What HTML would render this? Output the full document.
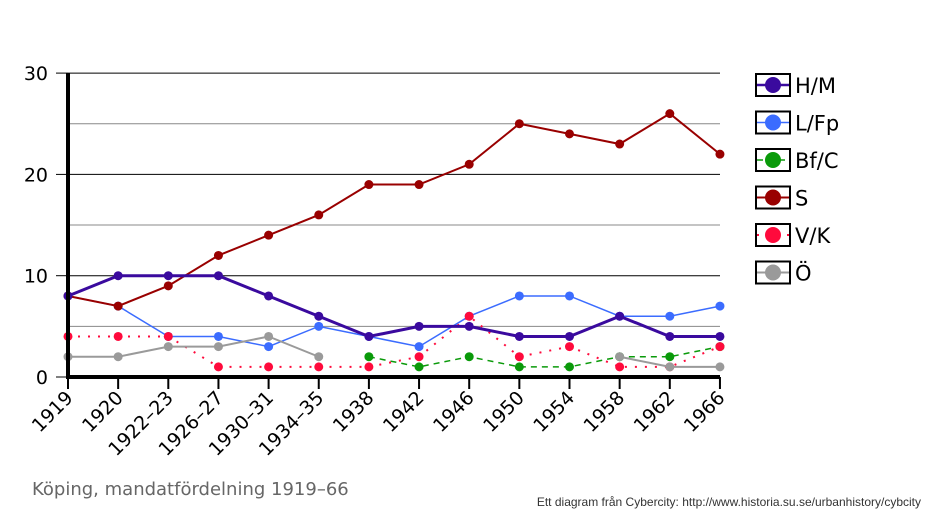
<!DOCTYPE html>
<html><head><meta charset="utf-8"><style>
body{margin:0;background:#fff;width:938px;height:521px;overflow:hidden}
svg text{font-family:"DejaVu Sans","Liberation Sans",sans-serif}
</style></head><body>
<svg id="s" width="938" height="521" xmlns="http://www.w3.org/2000/svg"></svg>
<script>
const s=document.getElementById('s');
const X=i=>68+i*50.15, Y=v=>377-v*10.13;
let h='';
for(let v=5;v<=30;v+=5){const y=Y(v);h+=`<line x1="68" x2="720" y1="${y}" y2="${y}" stroke="${v%10?'#888':'#000'}" stroke-width="1"/>`;}
for(let v=0;v<=30;v+=10){const y=Y(v);h+=`<line x1="56" x2="68" y1="${y}" y2="${y}" stroke="#000"/><text x="48" y="${y+7}" font-size="19" text-anchor="end">${v}</text>`;}
const cats=["1919","1920","1922–23","1926–27","1930–31","1934–35","1938","1942","1946","1950","1954","1958","1962","1966"];
cats.forEach((c,i)=>{const x=X(i);h+=`<line x1="${x}" x2="${x}" y1="377" y2="389" stroke="#000" stroke-width="2"/><text font-size="19" text-anchor="end" transform="translate(${x+6},${399}) rotate(-45)">${c}</text>`;});
const ser=[
["#3a0a9e",3,"",[8,10,10,10,8,6,4,5,5,4,4,6,4,4]],
["#3b6cff",1.5,"",[8,7,4,4,3,5,4,3,6,8,8,6,6,7]],
["#0a9a0a",1.5,"6,5",[null,null,null,null,null,null,2,1,2,1,1,2,2,3]],
["#990000",2,"",[8,7,9,12,14,16,19,19,21,25,24,23,26,22]],
["#ff0a3c",2,"2,8",[4,4,4,1,1,1,1,2,6,2,3,1,1,3]],
["#9a9a9a",2,"",[2,2,3,3,4,2,null,null,null,null,null,2,1,1]]];
const order=[1,2,4,5,3,0];
order.forEach(k=>{const [c,w,d,v]=ser[k];let seg=[];const flush=()=>{if(seg.length>1)h+=`<polyline fill="none" stroke="${c}" stroke-width="${w}" stroke-dasharray="${d}" points="${seg.join(' ')}"/>`;seg=[];};
v.forEach((val,i)=>{if(val==null){flush();return;}seg.push(X(i)+','+Y(val));});flush();
v.forEach((val,i)=>{if(val!=null)h+=`<circle cx="${X(i)}" cy="${Y(val)}" r="4.5" fill="${c}"/>`;});});
h+=`<line x1="68" x2="68" y1="73" y2="379" stroke="#000" stroke-width="4"/><line x1="66" x2="720" y1="377" y2="377" stroke="#000" stroke-width="4"/>`;
const names=["H/M","L/Fp","Bf/C","S","V/K","Ö"];
names.forEach((n,k)=>{const cy=85+k*37.5;const [c,w,d]=ser[k];
h+=`<rect x="756" y="${cy-11}" width="34" height="22" fill="#fff" stroke="#000" stroke-width="2"/><line x1="757" x2="789" y1="${cy}" y2="${cy}" stroke="${c}" stroke-width="${Math.min(w,2.5)}" stroke-dasharray="${d}"/><circle cx="773" cy="${cy}" r="8" fill="${c}"/><text x="795" y="${cy+8}" font-size="21">${n}</text>`;});
h+=`<text x="32" y="495" font-size="18" fill="#666">Köping, mandatfördelning 1919–66</text>`;
h+=`<text x="921" y="506" font-size="12" text-anchor="end" style="font-family:'Liberation Sans',sans-serif" fill="#333">Ett diagram från Cybercity: http://www.historia.su.se/urbanhistory/cybcity</text>`;
s.innerHTML=h;
</script>
</body></html>
